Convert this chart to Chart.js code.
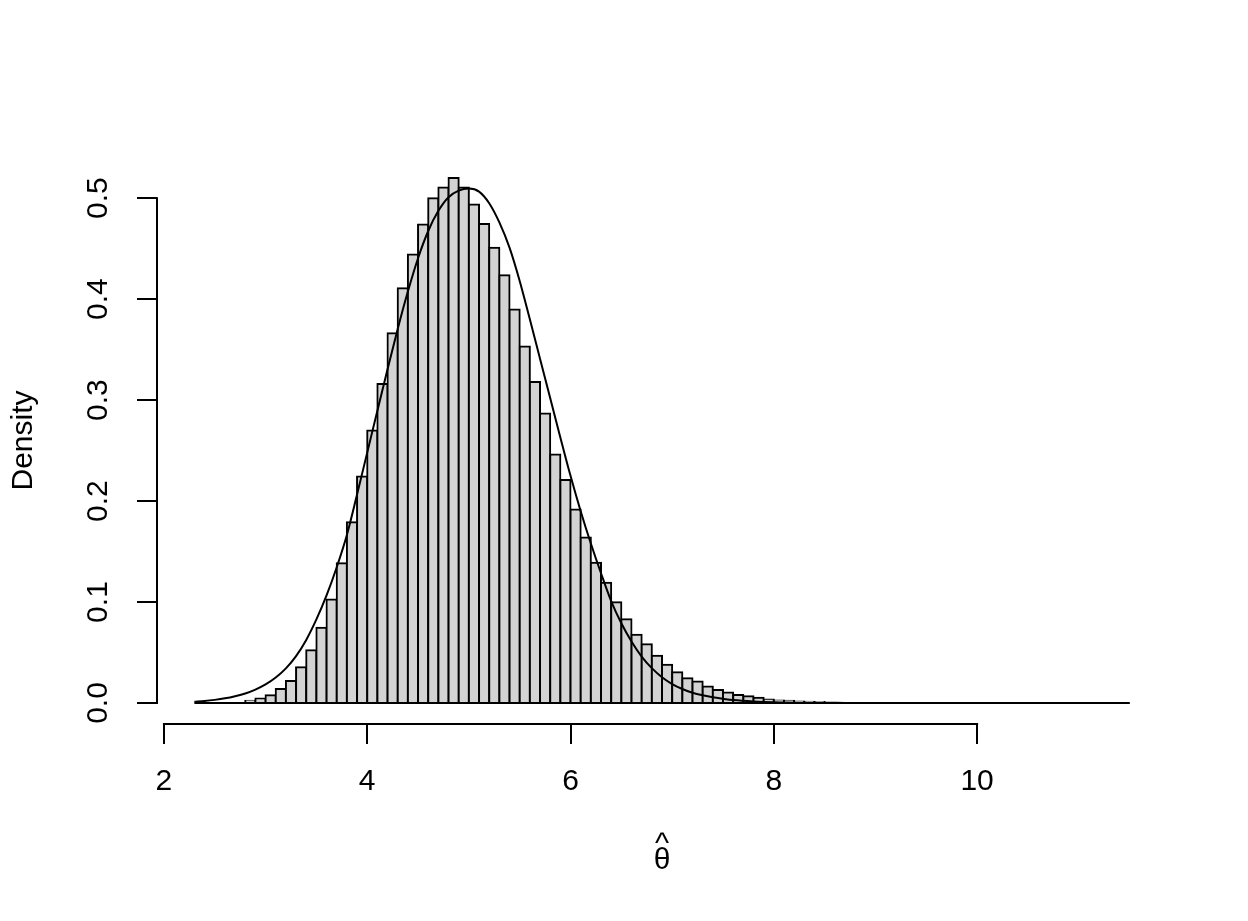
<!DOCTYPE html>
<html>
<head>
<meta charset="utf-8">
<script src="https://cdn.jsdelivr.net/npm/chart.js@4.4.1/dist/chart.umd.min.js"></script>
<style>
  html, body { margin: 0; padding: 0; background: #ffffff; overflow: hidden; }
  #wrap { width: 1248px; height: 921px; }
</style>
</head>
<body>
<div id="wrap"><canvas id="c" width="1248" height="921"></canvas></div>
<script>
// ---------- data ----------
const binWidth = 0.1;
const binLeft = [
  2.3, 2.4, 2.5, 2.6, 2.7, 2.8, 2.9, 3.0, 3.1, 3.2,
  3.3, 3.4, 3.5, 3.6, 3.7, 3.8, 3.9, 4.0, 4.1, 4.2,
  4.3, 4.4, 4.5, 4.6, 4.7, 4.8, 4.9, 5.0, 5.1, 5.2,
  5.3, 5.4, 5.5, 5.6, 5.7, 5.8, 5.9, 6.0, 6.1, 6.2,
  6.3, 6.4, 6.5, 6.6, 6.7, 6.8, 6.9, 7.0, 7.1, 7.2,
  7.3, 7.4, 7.5, 7.6, 7.7, 7.8, 7.9, 8.0, 8.1, 8.2,
  8.3, 8.4, 8.5, 8.6, 8.7, 8.8, 8.9, 9.0, 9.1, 9.2,
  9.3, 9.4, 9.5, 9.6, 9.7, 9.8, 9.9, 10.0, 10.1, 10.2,
  10.3, 10.4, 10.5, 10.6, 10.7, 10.8, 10.9, 11.0, 11.1, 11.2,
  11.3, 11.4
];
const density = [
  0, 0, 0, 0.0002, 0.0007, 0.0022, 0.0045, 0.0078, 0.0138, 0.0218,
  0.0355, 0.0522, 0.0745, 0.1025, 0.1385, 0.179, 0.2243, 0.270, 0.316, 0.3663,
  0.4108, 0.4442, 0.474, 0.500, 0.5106, 0.520, 0.5106, 0.4938, 0.4744, 0.4509,
  0.4236, 0.3897, 0.3532, 0.318, 0.2868, 0.2462, 0.2208, 0.1917, 0.1639, 0.1389,
  0.1191, 0.0999, 0.0829, 0.0677, 0.0581, 0.0467, 0.0378, 0.0305, 0.0245, 0.0212,
  0.0164, 0.013, 0.0105, 0.0079, 0.0066, 0.0052, 0.0035, 0.0025, 0.0022, 0.0016,
  0.0013, 0.001, 0.0008, 0.0006, 0.0005, 0.0004, 0.0003, 0.0002, 0.0002, 0.0001,
  0.0001, 0, 0, 0, 0, 0, 0, 0, 0, 0,
  0, 0, 0, 0, 0, 0, 0, 0, 0, 0,
  0, 0
];
const curveX = [
  2.3, 2.4, 2.5, 2.6, 2.7, 2.8, 2.9, 3.0, 3.1, 3.2,
  3.3, 3.4, 3.5, 3.6, 3.7, 3.8, 3.9, 4.0, 4.1, 4.2,
  4.3, 4.4, 4.5, 4.6, 4.7, 4.8, 4.9, 5.0, 5.1, 5.2,
  5.3, 5.4, 5.5, 5.6, 5.7, 5.8, 5.9, 6.0, 6.1, 6.2,
  6.3, 6.4, 6.5, 6.6, 6.7, 6.8, 6.9, 7.0, 7.1, 7.2,
  7.3, 7.4, 7.5, 7.6, 7.8, 8.0, 8.3, 8.7, 9.2, 11.5
];
const curveY = [
  0.0013, 0.0020, 0.0031, 0.0046, 0.0067, 0.0094, 0.0133, 0.0184, 0.0252, 0.0343,
  0.0464, 0.0625, 0.0828, 0.1065, 0.1345, 0.1665, 0.2065, 0.248, 0.2895, 0.3305,
  0.3705, 0.4075, 0.4405, 0.4675, 0.4875, 0.501, 0.5075, 0.5095, 0.5065, 0.495,
  0.476, 0.451, 0.418, 0.380, 0.341, 0.302, 0.263, 0.225, 0.190, 0.158,
  0.1285, 0.101, 0.079, 0.061, 0.046, 0.0345, 0.0255, 0.0188, 0.0139, 0.0102,
  0.0076, 0.0056, 0.0042, 0.003, 0.0016, 0.0008, 0.0003, 0.0001, 0, 0
];
const xTickValues = [2, 4, 6, 8, 10];
const xTickLabels = ['2', '4', '6', '8', '10'];
const yTickValues = [0, 0.1, 0.2, 0.3, 0.4, 0.5];
const yTickLabels = ['0.0', '0.1', '0.2', '0.3', '0.4', '0.5'];
const xTitle = ['^', 'θ'];
const yTitle = 'Density';

// ---------- chart ----------
const FONT = 'Liberation Sans, Arial, Helvetica, sans-serif';
const barData = binLeft.map((l, i) => ({ x: l + binWidth / 2, y: density[i] }));
const curveData = curveX.map((x, i) => ({ x: x, y: curveY[i] }));
const baseData = [
  { x: binLeft[0], y: 0 },
  { x: binLeft[binLeft.length - 1] + binWidth, y: 0 }
];

const rAxisLines = {
  id: 'rAxisLines',
  afterDraw(chart) {
    const ctx = chart.ctx;
    const xs = chart.scales.x, ys = chart.scales.y;
    ctx.save();
    ctx.strokeStyle = '#000000';
    ctx.lineWidth = 2;
    ctx.lineCap = 'square';
    ctx.beginPath();
    const yLine = xs.top;
    ctx.moveTo(xs.getPixelForValue(xTickValues[0]), yLine);
    ctx.lineTo(xs.getPixelForValue(xTickValues[xTickValues.length - 1]), yLine);
    const xLine = ys.right;
    ctx.moveTo(xLine, ys.getPixelForValue(yTickValues[0]));
    ctx.lineTo(xLine, ys.getPixelForValue(yTickValues[yTickValues.length - 1]));
    ctx.stroke();
    ctx.restore();
  }
};

new Chart(document.getElementById('c'), {
  type: 'bar',
  data: {
    datasets: [
      {
        type: 'line',
        data: curveData,
        borderColor: '#000000',
        borderWidth: 2,
        pointRadius: 0,
        cubicInterpolationMode: 'monotone',
        fill: false,
        order: 0
      },
      {
        type: 'line',
        data: baseData,
        borderColor: '#000000',
        borderWidth: 2,
        pointRadius: 0,
        fill: false,
        order: 1
      },
      {
        type: 'bar',
        data: barData,
        backgroundColor: '#D3D3D3',
        borderColor: '#000000',
        borderWidth: { top: 2, left: 2, right: 2, bottom: 0 },
        borderSkipped: 'start',
        inflateAmount: 1,
        barPercentage: 1.0,
        categoryPercentage: 1.0,
        order: 2
      }
    ]
  },
  options: {
    responsive: false,
    devicePixelRatio: 1,
    animation: false,
    events: [],
    layout: { padding: { top: 157, right: 81, left: 0, bottom: 0 } },
    plugins: { legend: { display: false }, tooltip: { enabled: false } },
    scales: {
      x: {
        type: 'linear',
        position: 'bottom',
        min: 1.932,
        max: 11.868,
        offset: false,
        grid: { display: true, offset: false, drawOnChartArea: false, drawTicks: true, tickLength: 20, color: '#000000', lineWidth: 2 },
        border: { display: false },
        afterBuildTicks(scale) { scale.ticks = xTickValues.map(v => ({ value: v })); },
        afterFit(scale) { scale.height = 197; },
        ticks: {
          autoSkip: false,
          maxRotation: 0,
          minRotation: 0,
          padding: 20,
          color: '#000000',
          font: { family: FONT, size: 30 },
          callback(value) { const i = xTickValues.indexOf(value); return i >= 0 ? xTickLabels[i] : ''; }
        },
        title: {
          display: true,
          text: xTitle,
          color: '#000000',
          font: { family: FONT, size: 30, lineHeight: 0.51 },
          padding: { top: 0, bottom: 53 }
        }
      },
      y: {
        type: 'linear',
        position: 'left',
        min: -0.0208,
        max: 0.5408,
        grid: { display: true, drawOnChartArea: false, drawTicks: true, tickLength: 20, color: '#000000', lineWidth: 2 },
        border: { display: false },
        afterBuildTicks(scale) { scale.ticks = yTickValues.map(v => ({ value: v })); },
        afterFit(scale) { scale.width = 157; },
        ticks: {
          autoSkip: false,
          minRotation: 90,
          maxRotation: 90,
          crossAlign: 'center',
          padding: 17,
          color: '#000000',
          font: { family: FONT, size: 30 },
          callback(value) { const i = yTickValues.findIndex(v => Math.abs(v - value) < 1e-9); return i >= 0 ? yTickLabels[i] : ''; }
        },
        title: {
          display: true,
          text: yTitle,
          color: '#000000',
          font: { family: FONT, size: 30 },
          padding: { top: 6, bottom: 0 }
        }
      }
    }
  },
  plugins: [rAxisLines]
});
</script>
</body>
</html>
